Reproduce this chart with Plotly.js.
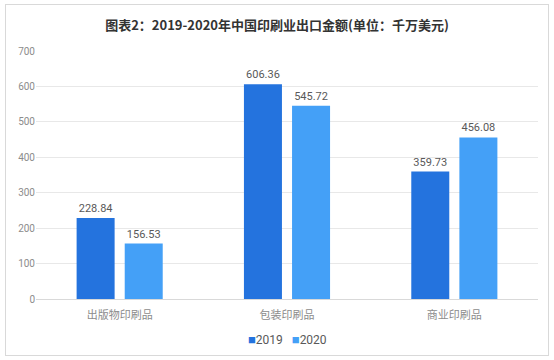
<!DOCTYPE html>
<html><head><meta charset="utf-8">
<script src="https://cdn.plot.ly/plotly-3.0.1.min.js"></script>
<style>
html,body{margin:0;padding:0;background:#fff;}
#wrap{position:relative;width:554px;height:360px;}
#chart{width:554px;height:360px;}
#frame{position:absolute;left:5px;top:4px;width:542px;height:350px;border:1px solid #d9d9d9;pointer-events:none;}
</style></head>
<body>
<div id="wrap"><div id="chart"></div><div id="frame"></div></div>
<script>
const categories = ['出版物印刷品', '包装印刷品', '商业印刷品'];
const seriesNames = ['2019', '2020'];
const values2019 = [228.84, 606.36, 359.73];
const values2020 = [156.53, 545.72, 456.08];
const yTicks = [0, 100, 200, 300, 400, 500, 600, 700];
const colors = ['#2473DE', '#44A0F7'];

const labelFont = {family: 'Roboto, "Noto Sans", sans-serif', size: 11, color: '#595959'};
const traces = [values2019, values2020].map((vals, i) => ({
  type: 'bar', name: seriesNames[i], x: categories, y: vals,
  marker: {color: colors[i]}, text: vals.map(v => v.toFixed(2)),
  textposition: 'outside', textfont: labelFont, cliponaxis: false
}));
const legendText = seriesNames.map((n, i) =>
  `<span style="color:${colors[i]};font-size:13px">■</span>${n}`).join('   ');
const layout = {
  width: 554, height: 360,
  margin: {l: 36, r: 16, t: 51, b: 61},
  paper_bgcolor: '#fff', plot_bgcolor: '#fff',
  title: {text: '<b>图表2：2019-2020年中国印刷业出口金额(单位：千万美元)</b>',
          font: {family: '"Noto Sans CJK SC", sans-serif', size: 13, color: '#333'},
          x: 0.5, xanchor: 'center', y: 0.93, yanchor: 'middle'},
  barmode: 'group', bargap: 0.425, bargroupgap: 0.21,
  xaxis: {tickfont: {family: '"Noto Sans CJK SC", serif', size: 11, color: '#8c8c8c'},
          showline: true, linecolor: '#d9d9d9', ticks: '', fixedrange: true,
          ticklabelstandoff: 6},
  yaxis: {range: [0, 700], tickvals: yTicks, showgrid: true, gridcolor: '#e8e8e8',
          zeroline: false, ticks: '', ticklen: 0,
          tickfont: {family: 'Roboto, sans-serif', size: 10, color: '#8c8c8c'}},
  showlegend: false,
  annotations: [{text: legendText, xref: 'paper', yref: 'paper', x: 0.5, y: -0.165,
                 xanchor: 'center', yanchor: 'middle', showarrow: false,
                 font: {family: 'Roboto, sans-serif', size: 12, color: '#595959'}}]
};
Plotly.newPlot('chart', traces, layout, {displayModeBar: false, staticPlot: true});
</script>
</body></html>
